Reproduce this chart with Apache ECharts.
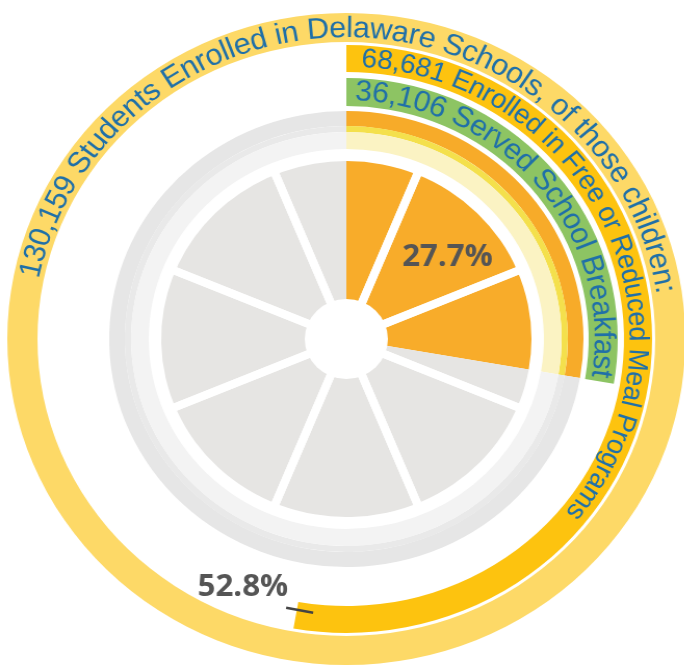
<!DOCTYPE html>
<html>
<head>
<meta charset="utf-8">
<script src="https://cdn.jsdelivr.net/npm/echarts@6/dist/echarts.min.js"></script>
<style>
  html, body { margin: 0; padding: 0; overflow: hidden; background: #fff; }
  /* the reference is a little wider than it is tall */
  #main { width: 658px; height: 671px; transform: scaleX(1.04); transform-origin: 0 0; }
</style>
</head>
<body>
<div id="main"></div>
<script>
// 数据
const totalStudents = 130159
const enrolledMeals = 68681
const servedBreakfast = 36106
const ringTexts = [
  ' Students Enrolled in Delaware Schools, of those children:',
  ' Enrolled in Free or Reduced Meal Programs',
  ' Served School Breakfast',
]
const lemonSegments = [1, 1, 1, 1, 1, 1, 1, 1]

const CX = 333
const CY = 339
const TEXT_FONT = '"Liberation Sans", Arial, sans-serif'
const fmt = (n) => n.toLocaleString('en-US')
const pct = (a, b) => (a / b * 100).toFixed(1) + '%'

// text that follows a circle, one graphic text per letter
function arcText(text, r, fromDeg, toDeg, color) {
  const ctx = document.createElement('canvas').getContext('2d')
  ctx.font = '100px ' + TEXT_FONT
  let w100 = 0
  for (const ch of text) w100 += ctx.measureText(ch).width
  const size = 100 * ((toDeg - fromDeg) * Math.PI / 180 * r) / w100
  const font = size.toFixed(2) + 'px ' + TEXT_FONT
  ctx.font = font
  let pos = 0
  const out = []
  for (const ch of text) {
    const w = ctx.measureText(ch).width
    const a = fromDeg * Math.PI / 180 + (pos + w / 2) / r
    pos += w
    if (ch === ' ') continue
    out.push({
      type: 'text',
      x: CX + r * Math.sin(a),
      y: CY - r * Math.cos(a),
      rotation: -a,
      silent: true,
      z: 10,
      style: { text: ch, fill: color, font: font, align: 'center', verticalAlign: 'middle' },
    })
  }
  return out
}

function ring(radius, data, extra) {
  return Object.assign({
    type: 'pie',
    radius: radius,
    center: [CX, CY],
    startAngle: 90,
    clockwise: true,
    silent: true,
    animation: false,
    avoidLabelOverlap: false,
    label: { show: false },
    labelLine: { show: false },
    emphasis: { disabled: true },
    data: data,
  }, extra || {})
}

const none = { color: 'rgba(0,0,0,0)' }
const rest = totalStudents - servedBreakfast

// 52.8% marker at the end of the meal-program band
const endA = enrolledMeals / totalStudents * 2 * Math.PI
const ex = CX + 277 * Math.sin(endA)
const ey = CY - 277 * Math.cos(endA)

let myChart = echarts.init(document.getElementById('main'))
let option = {
  backgroundColor: '#fff',
  series: [
    ring([297, 326], [{ value: totalStudents, itemStyle: { color: '#FDD967' } }]),
    ring([267, 294], [
      { value: enrolledMeals, itemStyle: { color: '#FDC30F' } },
      { value: totalStudents - enrolledMeals, itemStyle: none },
    ]),
    ring([233, 261], [
      { value: servedBreakfast, itemStyle: { color: '#8DC463' } },
      { value: rest, itemStyle: none },
    ]),
    // lemon peel
    ring([213, 228], [
      { value: servedBreakfast, itemStyle: { color: '#F7AB29' } },
      { value: rest, itemStyle: { color: '#E6E6E6' } },
    ]),
    ring([207, 213], [
      { value: servedBreakfast, itemStyle: { color: '#F4E04C' } },
      { value: rest, itemStyle: { color: '#E9E9E9' } },
    ]),
    ring([190, 207], [
      { value: servedBreakfast, itemStyle: { color: '#FBF3C3' } },
      { value: rest, itemStyle: { color: '#F3F3F3' } },
    ]),
    // lemon flesh
    ring([36, 178], [
      { value: servedBreakfast, itemStyle: { color: '#F8AC2A' } },
      { value: rest, itemStyle: { color: '#E6E5E3' } },
    ]),
    // segment dividers
    ring([0, 184], lemonSegments.map((v) => ({ value: v })), {
      startAngle: 112.5,
      itemStyle: { color: 'rgba(0,0,0,0)', borderColor: '#fff', borderWidth: 8 },
    }),
    ring([0, 40], [{ value: 1, itemStyle: { color: '#fff' } }]),
    // 27.7% label
    ring([70, 178], [
      {
        value: servedBreakfast,
        itemStyle: none,
        label: {
          show: true,
          position: 'inside',
          formatter: pct(servedBreakfast, totalStudents),
          color: '#555',
          fontFamily: '"Open Sans", sans-serif',
          fontWeight: 'bold',
          fontSize: 30,
        },
      },
      { value: rest, itemStyle: none },
    ]),
  ],
  graphic: [
    ...arcText(fmt(totalStudents) + ringTexts[0], 310, 281.5, 441.5, '#2070A8'),
    ...arcText(fmt(enrolledMeals) + ringTexts[1], 280, 3, 129.5, '#2070A8'),
    ...arcText(fmt(servedBreakfast) + ringTexts[2], 247, 2, 99, '#2070A8'),
    {
      type: 'line',
      silent: true,
      z: 10,
      shape: { x1: ex + 16, y1: ey + 1, x2: ex - 10, y2: ey - 4 },
      style: { stroke: '#444', lineWidth: 2.5 },
    },
    {
      type: 'text',
      silent: true,
      z: 10,
      x: ex - 8,
      y: ey - 24,
      style: {
        text: pct(enrolledMeals, totalStudents),
        fill: '#555',
        font: 'bold 30px "Open Sans", sans-serif',
        align: 'right',
        verticalAlign: 'middle',
      },
    },
  ],
}
myChart.setOption(option)
</script>
</body>
</html>
